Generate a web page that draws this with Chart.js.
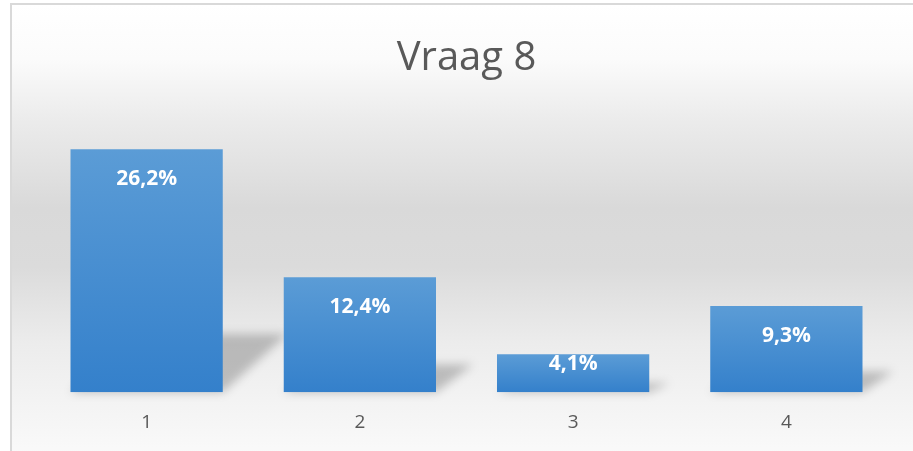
<!DOCTYPE html>
<html>
<head>
<meta charset="utf-8">
<script src="https://cdn.jsdelivr.net/npm/chart.js@4/dist/chart.umd.min.js"></script>
<style>
    html, body { margin: 0; padding: 0; background: #ffffff; }
    #frame {
        position: absolute; left: 0; top: 0; width: 913px; height: 451px; overflow: hidden;
    }
    #bg {
        position: absolute; left: 10px; top: 3px; right: -5px; bottom: -5px;
        border-left: 2px solid #d9d9d9; border-top: 2px solid #d9d9d9;
        background: linear-gradient(to bottom, #ffffff 0%, #fbfbfb 12%, #ececec 25%, #d9d9d9 45%, #dbdbdb 58%, #ececec 75%, #fafafa 100%);
    }
    #wrap { position: absolute; left: 0; top: 0; width: 913px; height: 451px; }
</style>
</head>
<body>
<div id="frame">
    <div id="bg"></div>
    <div id="wrap"><canvas id="vraagChart"></canvas></div>
</div>
<script>
// Vraag 8 - percentages per antwoord
const categories = ['1', '2', '3', '4'];
const percentages = [26.2, 12.4, 4.1, 9.3];
const yMax = 30;

const FONT = "'Open Sans', sans-serif";

// soft perspective shadow behind each bar
const barShadow = {
    id: 'barShadow',
    beforeDatasetsDraw(chart) {
        const ctx = chart.ctx;
        const meta = chart.getDatasetMeta(0);
        ctx.save();
        ctx.filter = 'blur(5px)';
        ctx.fillStyle = 'rgba(0, 0, 0, 0.22)';
        meta.data.forEach(bar => {
            const left = bar.x - bar.width / 2;
            const right = bar.x + bar.width / 2;
            const h = bar.base - bar.y;
            const sh = h * 0.24;
            const dx = sh * 0.9 + 12;
            ctx.beginPath();
            ctx.moveTo(left, bar.base);
            ctx.lineTo(right, bar.base);
            ctx.lineTo(right + dx, bar.base - sh);
            ctx.lineTo(left + dx, bar.base - sh);
            ctx.closePath();
            ctx.fill();
        });
        ctx.restore();
    }
};

// white value labels inside the top of each bar
const valueLabels = {
    id: 'valueLabels',
    afterDatasetsDraw(chart) {
        const ctx = chart.ctx;
        const meta = chart.getDatasetMeta(0);
        ctx.save();
        ctx.font = 'bold 21px ' + FONT;
        ctx.fillStyle = '#ffffff';
        ctx.textAlign = 'center';
        ctx.textBaseline = 'middle';
        meta.data.forEach((bar, i) => {
            const y = Math.max(bar.y + 10, Math.min(bar.y + 30, bar.base - 28));
            ctx.fillText(percentages[i].toFixed(1).replace('.', ',') + '%', bar.x, y);
        });
        ctx.restore();
    }
};

function barGradient(context) {
    const chart = context.chart;
    const yScale = chart.scales.y;
    if (context.type !== 'data' || !yScale) return '#4a8fd2';
    const top = yScale.getPixelForValue(context.raw);
    const bottom = yScale.getPixelForValue(0);
    if (!isFinite(top) || !isFinite(bottom) || top === bottom) return '#4a8fd2';
    const g = chart.ctx.createLinearGradient(0, top, 0, bottom);
    g.addColorStop(0, '#5b9cd6');
    g.addColorStop(1, '#3480cb');
    return g;
}

const ctx = document.getElementById('vraagChart');
new Chart(ctx, {
    type: 'bar',
    data: {
        labels: categories,
        datasets: [{
            data: percentages,
            backgroundColor: barGradient,
            borderWidth: 0,
            categoryPercentage: 1,
            barPercentage: 0.714
        }]
    },
    options: {
        responsive: true,
        maintainAspectRatio: false,
        animation: false,
        layout: {
            padding: { left: 40, right: 20, top: 0, bottom: -2 }
        },
        plugins: {
            legend: { display: false },
            tooltip: { enabled: false },
            title: {
                display: true,
                text: 'Vraag 8',
                color: '#595959',
                font: { family: FONT, size: 40, weight: 'normal' },
                padding: { top: 35, bottom: 31 }
            }
        },
        scales: {
            x: {
                grid: { display: false, drawTicks: false },
                border: { display: false },
                ticks: {
                    color: '#595959',
                    padding: 19,
                    font: { family: FONT, size: 19 }
                }
            },
            y: {
                display: false,
                min: 0,
                max: yMax
            }
        }
    },
    plugins: [barShadow, valueLabels]
});
</script>
</body>
</html>
